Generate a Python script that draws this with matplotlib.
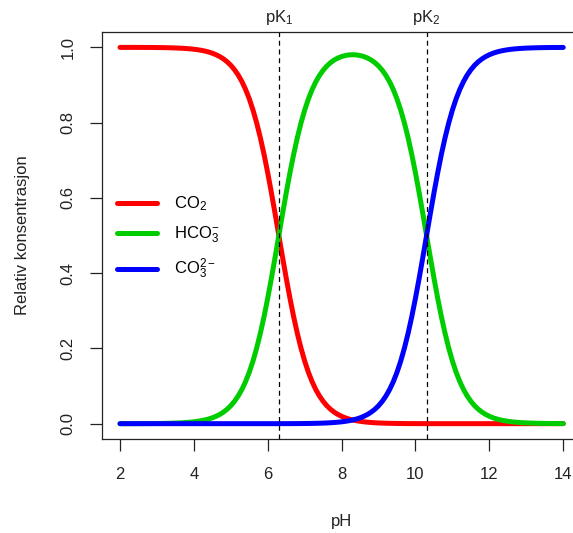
import matplotlib
matplotlib.use('Agg')
import matplotlib.pyplot as plt
import matplotlib.transforms as mtransforms

plt.rcParams['font.family'] = ['Liberation Sans', 'DejaVu Sans']
plt.rcParams['mathtext.fontset'] = 'custom'
plt.rcParams['mathtext.rm'] = 'Liberation Sans'
plt.rcParams['mathtext.it'] = 'Liberation Sans:italic'
plt.rcParams['mathtext.default'] = 'regular'

# fractions of dissolved inorganic carbon vs pH
ph = [2.0, 2.1, 2.2, 2.3, 2.4, 2.5, 2.6, 2.7, 2.8, 2.9,
      3.0, 3.1, 3.2, 3.3, 3.4, 3.5, 3.6, 3.7, 3.8, 3.9,
      4.0, 4.1, 4.2, 4.3, 4.4, 4.5, 4.6, 4.7, 4.8, 4.9,
      5.0, 5.1, 5.2, 5.3, 5.4, 5.5, 5.6, 5.7, 5.8, 5.9,
      6.0, 6.1, 6.2, 6.3, 6.4, 6.5, 6.6, 6.7, 6.8, 6.9,
      7.0, 7.1, 7.2, 7.3, 7.4, 7.5, 7.6, 7.7, 7.8, 7.9,
      8.0, 8.1, 8.2, 8.3, 8.4, 8.5, 8.6, 8.7, 8.8, 8.9,
      9.0, 9.1, 9.2, 9.3, 9.4, 9.5, 9.6, 9.7, 9.8, 9.9,
      10.0, 10.1, 10.2, 10.3, 10.4, 10.5, 10.6, 10.7, 10.8, 10.9,
      11.0, 11.1, 11.2, 11.3, 11.4, 11.5, 11.6, 11.7, 11.8, 11.9,
      12.0, 12.1, 12.2, 12.3, 12.4, 12.5, 12.6, 12.7, 12.8, 12.9,
      13.0, 13.1, 13.2, 13.3, 13.4, 13.5, 13.6, 13.7, 13.8, 13.9,
      14.0]
co2 = [0.9999, 0.9999, 0.9999, 0.9999, 0.9999, 0.9998, 0.9998, 0.9997, 0.9997, 0.9996,
       0.9995, 0.9994, 0.9992, 0.9990, 0.9987, 0.9984, 0.9980, 0.9975, 0.9968, 0.9960,
       0.9950, 0.9937, 0.9921, 0.9901, 0.9876, 0.9844, 0.9804, 0.9755, 0.9693, 0.9617,
       0.9523, 0.9406, 0.9264, 0.9091, 0.8882, 0.8632, 0.8337, 0.7992, 0.7597, 0.7153,
       0.6661, 0.6131, 0.5573, 0.5000, 0.4427, 0.3868, 0.3338, 0.2847, 0.2402, 0.2007,
       0.1663, 0.1367, 0.1117, 0.0908, 0.0735, 0.0593, 0.0476, 0.0382, 0.0306, 0.0244,
       0.0195, 0.0155, 0.0123, 0.0098, 0.0078, 0.0062, 0.0049, 0.0039, 0.0031, 0.0024,
       0.0019, 0.0015, 0.0012, 0.0009, 0.0007, 0.0005, 0.0004, 0.0003, 0.0002, 0.0002,
       0.0001, 0.0001, 0.0001, 0.0000, 0.0000, 0.0000, 0.0000, 0.0000, 0.0000, 0.0000,
       0.0000, 0.0000, 0.0000, 0.0000, 0.0000, 0.0000, 0.0000, 0.0000, 0.0000, 0.0000,
       0.0000, 0.0000, 0.0000, 0.0000, 0.0000, 0.0000, 0.0000, 0.0000, 0.0000, 0.0000,
       0.0000, 0.0000, 0.0000, 0.0000, 0.0000, 0.0000, 0.0000, 0.0000, 0.0000, 0.0000,
       0.0000]
hco3 = [0.0001, 0.0001, 0.0001, 0.0001, 0.0001, 0.0002, 0.0002, 0.0003, 0.0003, 0.0004,
        0.0005, 0.0006, 0.0008, 0.0010, 0.0013, 0.0016, 0.0020, 0.0025, 0.0032, 0.0040,
        0.0050, 0.0063, 0.0079, 0.0099, 0.0124, 0.0156, 0.0196, 0.0245, 0.0307, 0.0383,
        0.0477, 0.0594, 0.0736, 0.0909, 0.1118, 0.1368, 0.1663, 0.2008, 0.2403, 0.2847,
        0.3339, 0.3869, 0.4427, 0.5000, 0.5573, 0.6131, 0.6661, 0.7151, 0.7596, 0.7990,
        0.8333, 0.8627, 0.8876, 0.9083, 0.9253, 0.9392, 0.9505, 0.9594, 0.9664, 0.9717,
        0.9756, 0.9783, 0.9799, 0.9804, 0.9799, 0.9783, 0.9756, 0.9717, 0.9664, 0.9594,
        0.9505, 0.9392, 0.9253, 0.9083, 0.8876, 0.8627, 0.8333, 0.7990, 0.7596, 0.7151,
        0.6661, 0.6131, 0.5573, 0.5000, 0.4427, 0.3869, 0.3339, 0.2847, 0.2403, 0.2008,
        0.1663, 0.1368, 0.1118, 0.0909, 0.0736, 0.0594, 0.0477, 0.0383, 0.0307, 0.0245,
        0.0196, 0.0156, 0.0124, 0.0099, 0.0079, 0.0063, 0.0050, 0.0040, 0.0032, 0.0025,
        0.0020, 0.0016, 0.0013, 0.0010, 0.0008, 0.0006, 0.0005, 0.0004, 0.0003, 0.0003,
        0.0002]
co3 = [0.0000, 0.0000, 0.0000, 0.0000, 0.0000, 0.0000, 0.0000, 0.0000, 0.0000, 0.0000,
       0.0000, 0.0000, 0.0000, 0.0000, 0.0000, 0.0000, 0.0000, 0.0000, 0.0000, 0.0000,
       0.0000, 0.0000, 0.0000, 0.0000, 0.0000, 0.0000, 0.0000, 0.0000, 0.0000, 0.0000,
       0.0000, 0.0000, 0.0000, 0.0000, 0.0000, 0.0000, 0.0000, 0.0000, 0.0000, 0.0000,
       0.0000, 0.0000, 0.0000, 0.0000, 0.0001, 0.0001, 0.0001, 0.0002, 0.0002, 0.0003,
       0.0004, 0.0005, 0.0007, 0.0009, 0.0012, 0.0015, 0.0019, 0.0024, 0.0031, 0.0039,
       0.0049, 0.0062, 0.0078, 0.0098, 0.0123, 0.0155, 0.0195, 0.0244, 0.0306, 0.0382,
       0.0476, 0.0593, 0.0735, 0.0908, 0.1117, 0.1367, 0.1663, 0.2007, 0.2402, 0.2847,
       0.3338, 0.3868, 0.4427, 0.5000, 0.5573, 0.6131, 0.6661, 0.7153, 0.7597, 0.7992,
       0.8337, 0.8632, 0.8882, 0.9091, 0.9264, 0.9406, 0.9523, 0.9617, 0.9693, 0.9755,
       0.9804, 0.9844, 0.9876, 0.9901, 0.9921, 0.9937, 0.9950, 0.9960, 0.9968, 0.9975,
       0.9980, 0.9984, 0.9987, 0.9990, 0.9992, 0.9994, 0.9995, 0.9996, 0.9997, 0.9997,
       0.9998]
pk_values = [6.3, 10.3]
pk_labels = ['pK$_1$', 'pK$_2$']
series_labels = ['CO$_2$', 'HCO$_3^{-}$', 'CO$_3^{2-}$']
x_ticks = [2, 4, 6, 8, 10, 12, 14]
y_ticks = [0.0, 0.2, 0.4, 0.6, 0.8, 1.0]
y_ticklabels = ['0.0', '0.2', '0.4', '0.6', '0.8', '1.0']

fig = plt.figure(figsize=(5.73, 5.33), dpi=100)
ax = fig.add_axes([0.1785, 0.1769, 0.8354, 0.7625])

colors = ['#ff0000', '#00cd00', '#0000ff']
for vals, col, lab in zip([co2, hco3, co3], colors, series_labels):
    ax.plot(ph, vals, color=col, lw=3.6, label=lab,
            solid_capstyle='round', solid_joinstyle='round')

# dashed markers at the two pK values, labelled above the box
trans = mtransforms.blended_transform_factory(ax.transData, ax.transAxes)
for pk, lab in zip(pk_values, pk_labels):
    ax.axvline(pk, color='black', lw=0.9, ls=(0, (4, 3)))
    ax.text(pk, 1.012, lab, transform=trans, ha='center', va='bottom',
            fontsize=12, color='#222222')

ax.set_xlim(1.52, 14.48)
ax.set_ylim(-0.04, 1.04)
ax.set_xticks(x_ticks)
ax.set_yticks(y_ticks)
ax.set_yticklabels(y_ticklabels)
ax.tick_params(axis='both', length=8.6, width=0.9, colors='#222222',
               labelsize=12)
ax.tick_params(axis='x', pad=12)
ax.tick_params(axis='y', pad=10.5)
for lbl in ax.get_yticklabels():
    lbl.set_rotation(90)
    lbl.set_va('center')

for sp in ax.spines.values():
    sp.set_linewidth(0.9)
    sp.set_color('#222222')
ax.spines['right'].set_visible(False)

ax.set_xlabel('pH', fontsize=12, color='#222222')
ax.set_ylabel('Relativ konsentrasjon', fontsize=12, color='#222222')
ax.xaxis.set_label_coords(0.5, -0.2025)
ax.yaxis.set_label_coords(-0.1677, 0.5)
ax.xaxis.label.set_va('center')
ax.yaxis.label.set_va('center')

ax.legend(loc='center left', bbox_to_anchor=(117 / 573, 1 - 238 / 533),
          bbox_transform=fig.transFigure, frameon=False, fontsize=12,
          handlelength=2.4, handletextpad=1.0, borderpad=0,
          borderaxespad=0, labelspacing=0.7)

fig.savefig('out.png', dpi=100)
